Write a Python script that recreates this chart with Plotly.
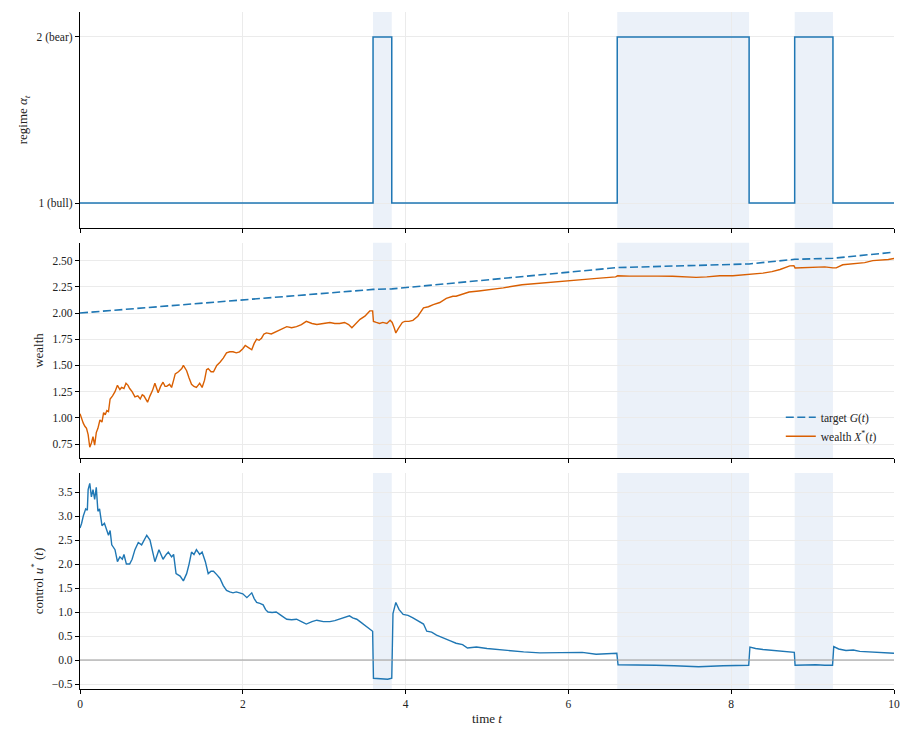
import plotly.graph_objects as go
from plotly.subplots import make_subplots

# ---------------- data ----------------
regime_t = [0, 3.60, 3.83, 6.60, 8.22, 8.78, 9.25, 10]
regime_v = [1, 2, 1, 2, 1, 2, 1, 1]
regime_ticks = [1, 2]
regime_labels = ["1 (bull)", "2 (bear)"]

bear_start = [3.60, 6.60, 8.78]
bear_end = [3.83, 8.22, 9.25]

target_t = [0, 3.60, 3.83, 6.60, 8.22, 8.78, 9.25, 10]
target_v = [2.00, 2.225, 2.230, 2.433, 2.468, 2.512, 2.522, 2.580]

wealth_t = [0, 0.02, 0.04, 0.06, 0.08, 0.10, 0.12, 0.14, 0.16, 0.18, 0.20, 0.22, 0.245, 0.27, 0.29, 0.31,
            0.33, 0.35, 0.37, 0.40, 0.43, 0.46, 0.49, 0.51, 0.54, 0.565, 0.59, 0.61, 0.64, 0.675, 0.71,
            0.74, 0.765, 0.785, 0.81, 0.83, 0.86, 0.89, 0.92, 0.94, 0.96, 0.99, 1.02, 1.045, 1.065,
            1.10, 1.125, 1.15, 1.17, 1.21, 1.25, 1.27, 1.29, 1.31, 1.34, 1.37, 1.40, 1.43, 1.45, 1.47,
            1.50, 1.53, 1.555, 1.575, 1.61, 1.64, 1.68, 1.72, 1.76, 1.80, 1.84, 1.88, 1.92, 1.96, 2.00,
            2.03, 2.07, 2.11, 2.14, 2.17, 2.20, 2.23, 2.26, 2.29, 2.35, 2.41, 2.47, 2.54, 2.60, 2.66,
            2.72, 2.78, 2.85, 2.91, 2.99, 3.07, 3.13, 3.19, 3.25, 3.30, 3.34, 3.39, 3.44, 3.50, 3.56,
            3.595, 3.605, 3.64, 3.68, 3.72, 3.77, 3.81, 3.835, 3.86, 3.88, 3.91, 3.93, 3.96, 3.99,
            4.04, 4.09, 4.15, 4.22, 4.28, 4.34, 4.42, 4.50, 4.58, 4.62, 4.70, 4.78, 4.90, 5.03,
            5.20, 5.43, 5.60, 5.84, 6.00, 6.17, 6.35, 6.58, 6.605, 6.75, 6.91, 7.10, 7.28, 7.45,
            7.57, 7.70, 7.86, 8.02, 8.12, 8.22, 8.30, 8.39, 8.50, 8.60, 8.72, 8.77, 8.785, 8.90,
            9.04, 9.15, 9.25, 9.29, 9.37, 9.45, 9.54, 9.64, 9.74, 9.85, 9.93, 10.0]
wealth_v = [1.04, 0.99, 0.95, 0.92, 0.90, 0.84, 0.72, 0.76, 0.82, 0.74, 0.86, 0.90, 0.98, 0.96, 1.05, 1.03,
            1.07, 1.06, 1.18, 1.21, 1.25, 1.31, 1.27, 1.29, 1.28, 1.33, 1.31, 1.28, 1.25, 1.20, 1.21,
            1.18, 1.22, 1.21, 1.18, 1.15, 1.21, 1.26, 1.33, 1.28, 1.24, 1.30, 1.34, 1.30, 1.30,
            1.32, 1.29, 1.36, 1.42, 1.44, 1.47, 1.50, 1.47, 1.45, 1.38, 1.32, 1.30, 1.29, 1.31, 1.33,
            1.29, 1.36, 1.46, 1.47, 1.44, 1.44, 1.50, 1.53, 1.57, 1.62, 1.63, 1.63, 1.62, 1.63, 1.66,
            1.69, 1.67, 1.65, 1.71, 1.75, 1.74, 1.76, 1.80, 1.81, 1.80, 1.82, 1.84, 1.87, 1.86, 1.87,
            1.89, 1.92, 1.90, 1.89, 1.90, 1.91, 1.90, 1.90, 1.91, 1.89, 1.86, 1.90, 1.94, 1.97, 2.02,
            2.02, 1.92, 1.91, 1.90, 1.91, 1.90, 1.93, 1.91, 1.86, 1.81, 1.85, 1.87, 1.91, 1.92,
            1.92, 1.93, 1.97, 2.05, 2.06, 2.08, 2.10, 2.14, 2.16, 2.16, 2.18, 2.20, 2.21, 2.22,
            2.24, 2.27, 2.28, 2.30, 2.31, 2.32, 2.33, 2.345, 2.355, 2.352, 2.355, 2.352, 2.35, 2.347,
            2.34, 2.345, 2.355, 2.355, 2.36, 2.365, 2.37, 2.38, 2.395, 2.415, 2.45, 2.452, 2.43, 2.435,
            2.44, 2.44, 2.43, 2.43, 2.46, 2.465, 2.47, 2.48, 2.50, 2.505, 2.51, 2.52]

control_t = [0, 0.02, 0.04, 0.07, 0.09, 0.10, 0.12, 0.14, 0.16, 0.18, 0.20, 0.22, 0.24, 0.27, 0.30, 0.32,
             0.35, 0.37, 0.39, 0.43, 0.46, 0.49, 0.52, 0.54, 0.57, 0.61, 0.64, 0.675, 0.716, 0.757, 0.79,
             0.82, 0.86, 0.89, 0.92, 0.97, 1.00, 1.02, 1.06, 1.085, 1.125, 1.15, 1.18, 1.23, 1.27, 1.31,
             1.34, 1.37, 1.40, 1.43, 1.47, 1.50, 1.54, 1.575, 1.61, 1.64, 1.68, 1.72, 1.76, 1.80, 1.84,
             1.88, 1.92, 1.96, 2.00, 2.05, 2.08, 2.11, 2.14, 2.17, 2.21, 2.25, 2.28, 2.31, 2.36, 2.41,
             2.47, 2.54, 2.60, 2.66, 2.72, 2.78, 2.85, 2.91, 2.99, 3.07, 3.13, 3.19, 3.25, 3.31, 3.35,
             3.40, 3.44, 3.48, 3.53, 3.595, 3.605, 3.66, 3.72, 3.78, 3.83, 3.845, 3.88, 3.92, 3.97,
             4.03, 4.09, 4.15, 4.22, 4.26, 4.32, 4.38, 4.46, 4.55, 4.62, 4.70, 4.76, 4.87, 5.00,
             5.24, 5.45, 5.65, 5.85, 6.00, 6.17, 6.34, 6.48, 6.595, 6.61, 6.80, 7.07, 7.30, 7.60,
             7.90, 8.05, 8.215, 8.23, 8.30, 8.39, 8.50, 8.65, 8.775, 8.785, 8.90, 9.04, 9.15, 9.245,
             9.26, 9.32, 9.41, 9.50, 9.58, 9.66, 9.75, 9.85, 9.93, 10.0]
control_v = [2.75, 2.85, 3.00, 3.15, 3.12, 3.55, 3.68, 3.40, 3.55, 3.35, 3.60, 3.10, 3.15, 2.80, 2.85, 2.75,
             2.60, 2.70, 2.40, 2.30, 2.05, 2.15, 2.10, 2.20, 2.00, 2.00, 2.10, 2.30, 2.45, 2.40, 2.50,
             2.60, 2.50, 2.30, 2.05, 2.30, 2.20, 2.10, 2.20, 2.25, 2.15, 2.20, 1.80, 1.75, 1.65, 1.80,
             2.00, 2.25, 2.20, 2.30, 2.20, 2.25, 2.05, 1.80, 1.85, 1.85, 1.78, 1.70, 1.55, 1.45, 1.42,
             1.40, 1.42, 1.40, 1.38, 1.30, 1.35, 1.40, 1.28, 1.20, 1.18, 1.15, 1.05, 1.00, 0.99, 1.00,
             0.93, 0.85, 0.84, 0.85, 0.80, 0.75, 0.80, 0.83, 0.80, 0.80, 0.82, 0.85, 0.88, 0.92, 0.88,
             0.85, 0.80, 0.75, 0.70, 0.60, -0.38, -0.39, -0.40, -0.40, -0.38, 0.97, 1.20, 1.05, 0.95,
             0.93, 0.88, 0.82, 0.75, 0.60, 0.58, 0.52, 0.47, 0.40, 0.35, 0.32, 0.25, 0.27, 0.24,
             0.20, 0.17, 0.15, 0.15, 0.15, 0.16, 0.12, 0.13, 0.14, -0.10, -0.11, -0.11, -0.12, -0.14,
             -0.12, -0.12, -0.11, 0.27, 0.24, 0.22, 0.20, 0.18, 0.16, -0.11, -0.10, -0.10, -0.11, -0.11,
             0.28, 0.23, 0.20, 0.21, 0.18, 0.17, 0.17, 0.16, 0.15, 0.14]

x_ticks = [0, 2, 4, 6, 8, 10]

# ---------------- styles ----------------
BLUE = "#1f77b4"
ORANGE = "#d95f02"
SHADE = "#ebf1f9"
GRID = "#ebebeb"
FONT = "Liberation Serif"

fig = make_subplots(rows=3, cols=1, shared_xaxes=True)

fig.add_trace(go.Scatter(x=regime_t, y=regime_v, mode="lines", line=dict(color=BLUE, width=1.5, shape="hv"),
                         showlegend=False), row=1, col=1)
fig.add_trace(go.Scatter(x=target_t, y=target_v, mode="lines", name="target <i>G</i>(<i>t</i>)",
                         line=dict(color=BLUE, width=1.6, dash="8px,3.5px")), row=2, col=1)
fig.add_trace(go.Scatter(x=wealth_t, y=wealth_v, mode="lines", name="wealth <i>X</i><sup>*</sup>(<i>t</i>)",
                         line=dict(color=ORANGE, width=1.4)), row=2, col=1)
fig.add_trace(go.Scatter(x=control_t, y=control_v, mode="lines", line=dict(color=BLUE, width=1.4),
                         showlegend=False), row=3, col=1)

for r in (1, 2, 3):
    for s, e in zip(bear_start, bear_end):
        fig.add_vrect(x0=s, x1=e, fillcolor=SHADE, line_width=0, layer="below", row=r, col=1)

fig.add_hline(y=0, line=dict(color="#999999", width=1.2), row=3, col=1)

axis_common = dict(showline=True, linecolor="black", linewidth=1.2, ticks="outside", ticklen=4,
                   tickcolor="black", tickwidth=1, showgrid=True, gridcolor=GRID, gridwidth=1,
                   zeroline=False, tickfont=dict(family=FONT, size=11.5, color="#222222"))

TITLE_FONT = dict(family=FONT, size=13, color="#222222")

for r in (1, 2, 3):
    fig.update_xaxes(range=[0, 10], tickvals=x_ticks, showticklabels=(r == 3), row=r, col=1, **axis_common)

fig.update_xaxes(title=dict(text="time <i>t</i>", font=TITLE_FONT, standoff=4), row=3, col=1)

fig.update_yaxes(range=[0.85, 2.15], tickvals=regime_ticks, ticktext=regime_labels,
                 title=dict(text="regime <i>α<sub>t</sub></i>", font=TITLE_FONT, standoff=5),
                 domain=[0.681, 1.0], row=1, col=1, **axis_common)
fig.update_yaxes(range=[0.616, 2.669], tickvals=[0.75, 1.0, 1.25, 1.5, 1.75, 2.0, 2.25, 2.5], tickformat=".2f",
                 title=dict(text="wealth", font=TITLE_FONT, standoff=5),
                 domain=[0.341, 0.659], row=2, col=1, **axis_common)
fig.update_yaxes(range=[-0.604, 3.897], tickvals=[-0.5, 0, 0.5, 1, 1.5, 2, 2.5, 3, 3.5], tickformat=".1f",
                 title=dict(text="control <i>u</i><sup>*</sup> (<i>t</i>)", font=TITLE_FONT, standoff=5),
                 domain=[0.0, 0.319], row=3, col=1, **axis_common)

fig.update_layout(
    width=904, height=734,
    margin=dict(l=72, r=18, t=4, b=53),
    plot_bgcolor="white", paper_bgcolor="white",
    font=dict(family=FONT, size=11.5, color="#222222"),
    legend=dict(x=0.985, xanchor="right", y=0.352, yanchor="bottom", bgcolor="rgba(255,255,255,0)",
                font=dict(family=FONT, size=11.5), tracegroupgap=2),
)

fig.write_html("out.html")
